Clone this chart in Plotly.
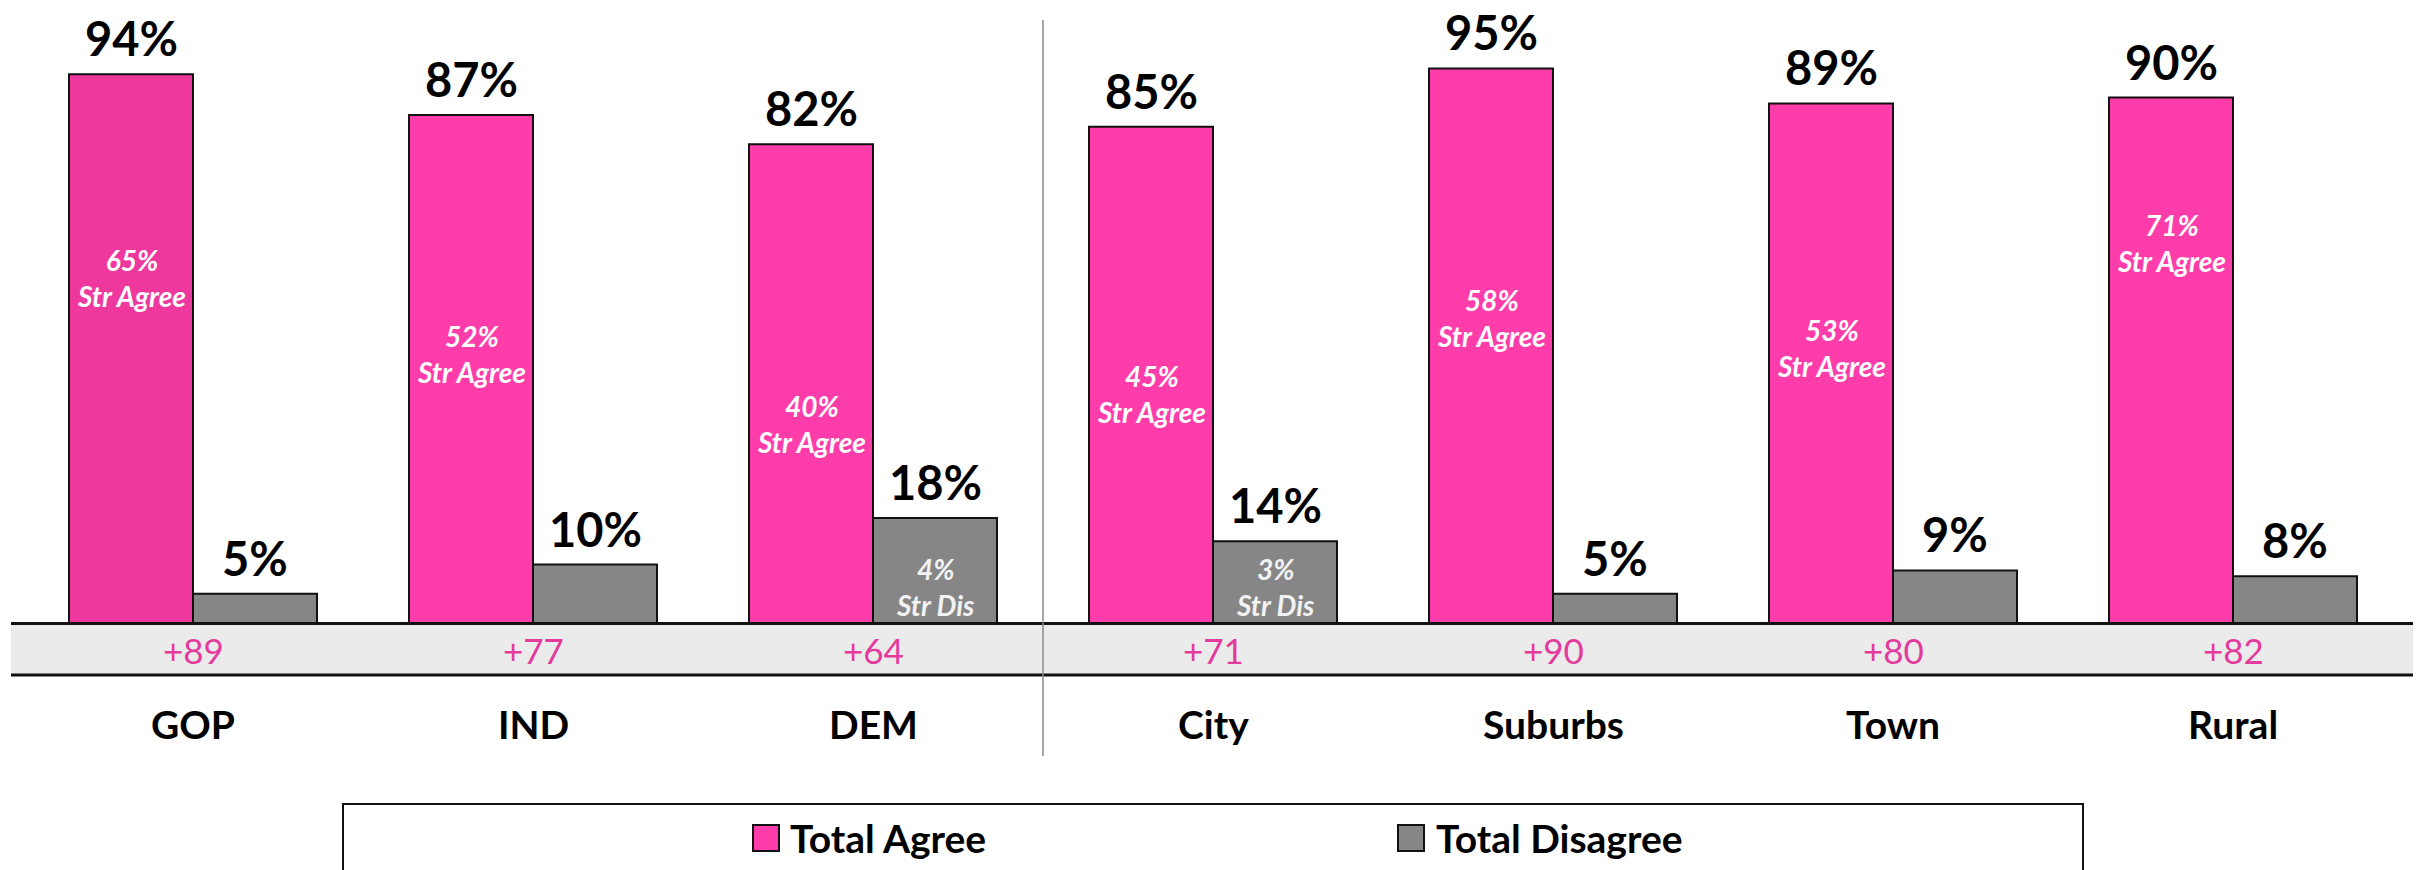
import plotly.graph_objects as go

categories = ["GOP", "IND", "DEM", "City", "Suburbs", "Town", "Rural"]
total_agree = [94, 87, 82, 85, 95, 89, 90]
total_disagree = [5, 10, 18, 14, 5, 9, 8]
strong_agree = [65, 52, 40, 45, 58, 53, 71]
strong_disagree = [None, None, 4, 3, None, None, None]
series_names = ["Total Agree", "Total Disagree"]

PINK = "#FF3DAA"
PINK_GOP = "#EE389E"
GRAY = "#868686"
NET_PINK = "#E33A9C"
FONT = "Lato"

# pixel frame of the plotting area
TOP, BOTTOM, LEFT, RIGHT = 10, 623, 23, 2403


def px(p):
    return (p - LEFT) / (RIGHT - LEFT)


def py(p):
    return (BOTTOM - p) / (BOTTOM - TOP)


agree_colors = [PINK_GOP] + [PINK] * (len(categories) - 1)
x = list(range(len(categories)))

fig = go.Figure()
fig.add_trace(go.Bar(
    x=x, y=total_agree, name=series_names[0],
    marker=dict(color=agree_colors, line=dict(color="#111111", width=2)),
))
fig.add_trace(go.Bar(
    x=x, y=total_disagree, name=series_names[1],
    marker=dict(color=GRAY, line=dict(color="#111111", width=2)),
))

annotations = []
for i, (a, d) in enumerate(zip(total_agree, total_disagree)):
    annotations.append(dict(
        x=i, y=a, xref="x", yref="y", xshift=-62, yshift=6,
        yanchor="bottom", showarrow=False, text=f"<b>{a}%</b>",
        font=dict(family=FONT, size=47, color="black"),
    ))
    annotations.append(dict(
        x=i, y=d, xref="x", yref="y", xshift=62, yshift=6,
        yanchor="bottom", showarrow=False, text=f"<b>{d}%</b>",
        font=dict(family=FONT, size=47, color="black"),
    ))
    # net score in the grey band
    annotations.append(dict(
        x=i, y=py(650), xref="x", yref="paper", yanchor="middle",
        showarrow=False, text=f"+{a - d}",
        font=dict(family=FONT, size=35, color=NET_PINK),
    ))
    annotations.append(dict(
        x=i, y=py(724), xref="x", yref="paper", yanchor="middle",
        showarrow=False, text=f"<b>{categories[i]}</b>",
        font=dict(family=FONT, size=39, color="black"),
    ))

for i, s in enumerate(strong_agree):
    annotations.append(dict(
        x=i, y=s + 0.5, xref="x", yref="y", xshift=-62, yanchor="top",
        showarrow=False, text=f"<b><i>{s}%<br>Str Agree</i></b>",
        font=dict(family=FONT, size=28, color="white"),
    ))

for i, s in enumerate(strong_disagree):
    if s is None:
        continue
    annotations.append(dict(
        x=i, y=6.2, xref="x", yref="y", xshift=62, yanchor="middle",
        showarrow=False, text=f"<b><i>{s}%<br>Str Dis</i></b>",
        font=dict(family=FONT, size=28, color="#F2F2F2"),
    ))

# legend text
for name, left in zip(series_names, [788, 1434]):
    annotations.append(dict(
        x=px(left), y=py(838), xref="paper", yref="paper",
        xanchor="left", yanchor="middle", showarrow=False,
        text=f"<b>{name}</b>", font=dict(family=FONT, size=39, color="black"),
    ))

shapes = [
    # grey net band
    dict(type="rect", xref="paper", yref="paper",
         x0=px(11), x1=px(2413), y0=py(675), y1=py(624),
         fillcolor="#EBEBEB", line=dict(width=0), layer="below"),
    dict(type="line", xref="paper", yref="paper",
         x0=px(11), x1=px(2413), y0=py(623.5), y1=py(623.5),
         line=dict(color="#111111", width=3)),
    dict(type="line", xref="paper", yref="paper",
         x0=px(11), x1=px(2413), y0=py(675), y1=py(675),
         line=dict(color="#111111", width=3)),
    # separator between party and area groups
    dict(type="line", xref="paper", yref="paper",
         x0=px(1043), x1=px(1043), y0=py(756), y1=py(20),
         line=dict(color="#8A8A8A", width=1.5)),
    # legend frame
    dict(type="rect", xref="paper", yref="paper",
         x0=px(343), x1=px(2083), y0=py(900), y1=py(804),
         line=dict(color="#111111", width=2)),
]
for color, left in zip([PINK, GRAY], [753, 1398]):
    shapes.append(dict(
        type="rect", xref="paper", yref="paper",
        x0=px(left), x1=px(left + 26), y0=py(851), y1=py(825),
        fillcolor=color, line=dict(color="#111111", width=2),
    ))

fig.update_layout(
    width=2420,
    height=870,
    autosize=False,
    barmode="group",
    bargap=0.2706,
    bargroupgap=0,
    showlegend=False,
    plot_bgcolor="white",
    paper_bgcolor="white",
    margin=dict(l=LEFT, r=2420 - RIGHT, t=TOP, b=870 - BOTTOM),
    xaxis=dict(range=[-0.5, len(categories) - 0.5], visible=False),
    yaxis=dict(range=[0, 105], visible=False),
    annotations=annotations,
    shapes=shapes,
)

# drop the default 8px page margin so the figure sits at the window origin
fig.write_html(
    "out.html",
    config={"displayModeBar": False},
    post_script="document.body.style.margin='0';",
)
